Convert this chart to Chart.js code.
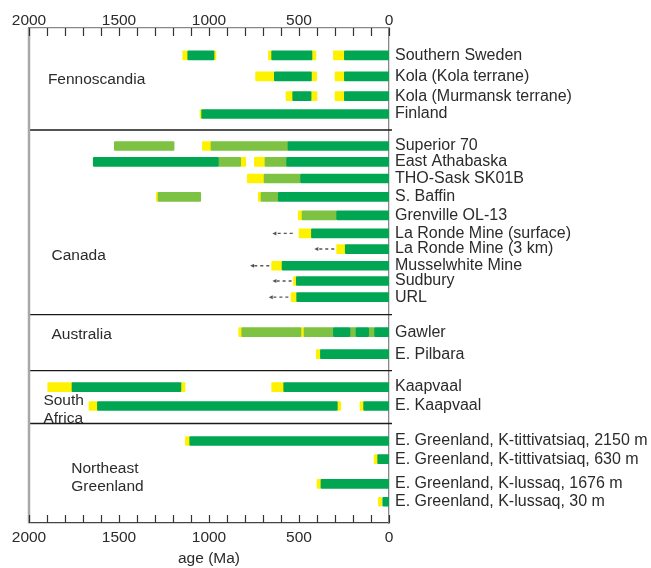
<!DOCTYPE html>
<html>
<head>
<meta charset="utf-8">
<script src="https://cdn.jsdelivr.net/npm/chart.js@4/dist/chart.umd.min.js"></script>
<style>
  html, body { margin: 0; padding: 0; background: #fff; }
  #wrap { width: 651px; height: 568px; }
</style>
</head>
<body>
<div id="wrap"><canvas id="chart"></canvas></div>
<script>
// ряды (сверху вниз)
const rows = [
  "Southern Sweden", "Kola (Kola terrane)", "Kola (Murmansk terrane)", "Finland",
  "Superior 70", "East Athabaska", "THO-Sask SK01B", "S. Baffin", "Grenville OL-13",
  "La Ronde Mine (surface)", "La Ronde Mine (3 km)", "Musselwhite Mine", "Sudbury", "URL",
  "Gawler", "E. Pilbara",
  "Kaapvaal", "E. Kaapvaal",
  "E. Greenland, K-tittivatsiaq, 2150 m", "E. Greenland, K-tittivatsiaq, 630 m",
  "E. Greenland, K-lussaq, 1676 m", "E. Greenland, K-lussaq, 30 m"
];
// положение ряда на оси y (слоты)
const rowY = [2.75, 4.85, 6.83, 8.62, 11.82, 13.42, 15.08, 16.92, 18.77, 20.58, 22.15,
  23.82, 25.35, 26.97, 30.48, 32.68, 35.98, 37.88, 41.38, 43.2, 45.68, 47.47];

// группы: [название, первый ряд, последний ряд]
const groups = [
  ["Fennoscandia", 0, 3],
  ["Canada", 4, 13],
  ["Australia", 14, 15],
  ["South Africa", 16, 17],
  ["Northeast Greenland", 18, 21]
];
// подписи групп: [строки, возраст левого края, слот y]
const groupLabels = [
  [["Fennoscandia"], 1895, 5.2],
  [["Canada"], 1875, 22.8],
  [["Australia"], 1875, 30.75],
  [["South", "Africa"], 1920, 38.2],
  [["Northeast", "Greenland"], 1765, 45.05]
];

// интервалы возрастов (Ма): [ряд, от, до]
const yellowSegs = [
  [0, 1146, 1118], [0, 972, 961], [0, 670, 652], [0, 428, 406], [0, 309, 248],
  [1, 741, 637], [1, 431, 402], [1, 300, 248],
  [2, 572, 535], [2, 433, 400], [2, 300, 248],
  [3, 1050, 1041],
  [4, 1037, 989],
  [5, 824, 796], [5, 748, 689],
  [6, 787, 694],
  [7, 1293, 1283], [7, 726, 711],
  [8, 504, 483],
  [9, 500, 431],
  [10, 291, 243],
  [11, 652, 594],
  [12, 531, 515],
  [13, 544, 513],
  [14, 835, 818], [14, 489, 472],
  [15, 404, 381],
  [16, 1896, 1761], [16, 1156, 1133], [16, 652, 585],
  [17, 1667, 1620], [17, 287, 268], [17, 161, 141],
  [18, 1131, 1107],
  [19, 83, 63],
  [20, 400, 378],
  [21, 59, 41]
];
const lightSegs = [
  [4, 1526, 1194], [4, 989, 561],
  [5, 948, 824], [5, 689, 569],
  [6, 694, 491],
  [7, 1283, 1046], [7, 711, 615],
  [8, 483, 291],
  [14, 818, 489], [14, 472, 309], [14, 217, 183], [14, 113, 80]
];
const darkSegs = [
  [0, 1118, 972], [0, 652, 428], [0, 248, 0],
  [1, 637, 431], [1, 248, 0],
  [2, 535, 433], [2, 248, 0],
  [3, 1041, 0],
  [4, 561, 0],
  [5, 1643, 948], [5, 569, 0],
  [6, 491, 0],
  [7, 615, 0],
  [8, 291, 0],
  [9, 431, 0],
  [10, 243, 0],
  [11, 594, 0],
  [12, 515, 0],
  [13, 513, 0],
  [14, 309, 217], [14, 183, 113], [14, 80, 0],
  [15, 381, 0],
  [16, 1761, 1156], [16, 585, 0],
  [17, 1620, 287], [17, 141, 0],
  [18, 1107, 0],
  [19, 63, 0],
  [20, 378, 0],
  [21, 35, 0]
];
// пунктирные стрелки: [ряд, от, до]
const arrows = [
  [9, 535, 648], [10, 304, 415], [11, 665, 772], [12, 541, 648], [13, 559, 668]
];

const FONT = "'Liberation Sans', Arial, Helvetica, sans-serif";
const TEXT = "#2b2b2b";

function toPoints(segs) {
  return segs.map(s => ({ x: [s[1], s[2]], y: rowY[s[0]] }));
}

const decor = {
  id: "decor",
  beforeDatasetsDraw(chart) {
    const { ctx, chartArea: a, scales } = chart;
    const x = scales.x, y = scales.y;
    ctx.save();
    // разделители групп
    ctx.strokeStyle = "#1a1a1a";
    ctx.lineWidth = 1.3;
    for (let i = 0; i < groups.length - 1; i++) {
      const yy = (y.getPixelForValue(rowY[groups[i][2]]) + y.getPixelForValue(rowY[groups[i + 1][1]])) / 2;
      ctx.beginPath();
      ctx.moveTo(a.left, yy);
      ctx.lineTo(a.right + 3, yy);
      ctx.stroke();
    }
    // левая граница
    ctx.strokeStyle = "#a8a8a8";
    ctx.lineWidth = 2.5;
    ctx.beginPath();
    ctx.moveTo(a.left, a.top);
    ctx.lineTo(a.left, a.bottom);
    ctx.stroke();
    // засечки внутрь
    ctx.strokeStyle = "#333";
    ctx.lineWidth = 1.2;
    for (let v = 0; v <= 2000; v += 100) {
      const px = Math.round(x.getPixelForValue(v)) + 0.5;
      ctx.beginPath();
      ctx.moveTo(px, a.top);
      ctx.lineTo(px, a.top + 8);
      ctx.moveTo(px, a.bottom);
      ctx.lineTo(px, a.bottom - 8);
      ctx.stroke();
    }
    // подписи групп
    ctx.fillStyle = TEXT;
    ctx.font = "15.5px " + FONT;
    ctx.textAlign = "left";
    ctx.textBaseline = "middle";
    groupLabels.forEach(g => {
      const px = x.getPixelForValue(g[1]);
      const py = y.getPixelForValue(g[2]);
      const n = g[0].length;
      g[0].forEach((t, i) => {
        ctx.fillText(t, px, py + (i - (n - 1) / 2) * 18);
      });
    });
    // стрелки
    ctx.strokeStyle = "#555";
    ctx.fillStyle = "#555";
    ctx.lineWidth = 1.4;
    arrows.forEach(r => {
      const py = y.getPixelForValue(rowY[r[0]]);
      const x1 = x.getPixelForValue(r[1]);
      const x2 = x.getPixelForValue(r[2]);
      ctx.setLineDash([3, 3]);
      ctx.beginPath();
      ctx.moveTo(x1, py);
      ctx.lineTo(x2 + 3, py);
      ctx.stroke();
      ctx.setLineDash([]);
      ctx.beginPath();
      ctx.moveTo(x2, py);
      ctx.lineTo(x2 + 4, py - 2);
      ctx.lineTo(x2 + 4, py + 2);
      ctx.closePath();
      ctx.fill();
    });
    ctx.restore();
  }
};

const barStyle = { barThickness: 9, borderWidth: 0, borderRadius: 1, borderSkipped: false };

new Chart(document.getElementById("chart"), {
  type: "bar",
  data: {
    datasets: [
      { label: "dark", data: toPoints(darkSegs), backgroundColor: "#00a651", ...barStyle },
      { label: "light", data: toPoints(lightSegs), backgroundColor: "#7dc242", ...barStyle },
      { label: "yellow", data: toPoints(yellowSegs), backgroundColor: "#fff200", ...barStyle }
    ]
  },
  options: {
    indexAxis: "y",
    responsive: true,
    maintainAspectRatio: false,
    animation: false,
    grouped: false,
    layout: { padding: { left: 29, right: 0, top: 0, bottom: 0 } },
    plugins: { legend: { display: false }, tooltip: { enabled: false } },
    scales: {
      x: {
        type: "linear",
        position: "bottom",
        reverse: true,
        min: 0,
        max: 2000,
        afterFit(s) { s.height = 45; },
        grid: { display: false, drawTicks: false },
        border: { display: true, color: "#444", width: 1.3 },
        ticks: {
          stepSize: 100,
          autoSkip: false,
          maxRotation: 0,
          padding: 5,
          color: TEXT,
          font: { family: FONT, size: 15.5 },
          callback: v => (v % 500 === 0 ? v : "")
        },
        title: {
          display: true,
          text: "age (Ma)",
          color: TEXT,
          font: { family: FONT, size: 15.5 },
          padding: { top: 8, bottom: 0 }
        }
      },
      x2: {
        type: "linear",
        position: "top",
        reverse: true,
        min: 0,
        max: 2000,
        afterFit(s) { s.height = 28; },
        grid: { display: false, drawTicks: false },
        border: { display: true, color: "#888", width: 1.3 },
        ticks: {
          stepSize: 100,
          autoSkip: false,
          maxRotation: 0,
          padding: -2,
          color: TEXT,
          font: { family: FONT, size: 15.5 },
          callback: v => (v % 500 === 0 ? v : "")
        }
      },
      y: {
        type: "linear",
        position: "right",
        reverse: true,
        offset: false,
        min: 0,
        max: 49.6,
        afterFit(s) { s.width = 262; },
        afterBuildTicks(s) { s.ticks = rowY.map(v => ({ value: v })); },
        grid: { display: false, drawTicks: false, offset: false },
        border: { display: true, color: "#888", width: 1.3 },
        ticks: {
          autoSkip: false,
          padding: 6,
          color: TEXT,
          font: { family: FONT, size: 16 },
          callback: (v, i) => rows[i]
        }
      }
    }
  },
  plugins: [decor]
});
</script>
</body>
</html>
